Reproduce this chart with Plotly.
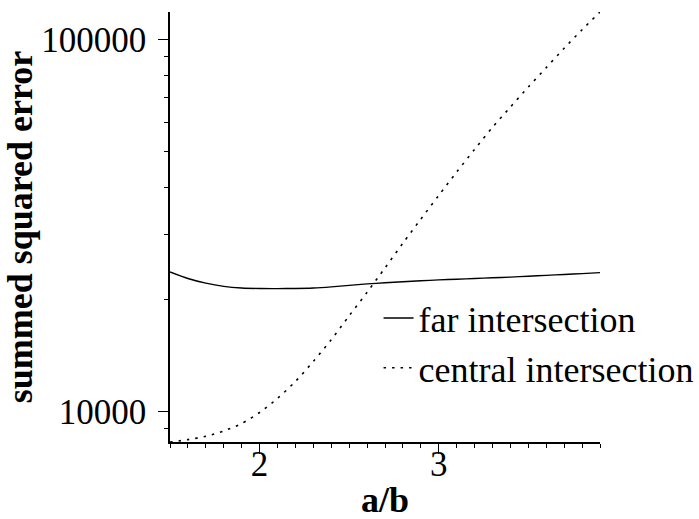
import numpy as np
import plotly.graph_objects as go

# ratio a/b
ab = [1.5, 1.6, 1.7, 1.8, 1.9, 2.0, 2.1, 2.2, 2.3, 2.4, 2.5, 2.6, 2.7,
      2.8, 2.9, 3.0, 3.1, 3.2, 3.3, 3.4, 3.5, 3.6, 3.7, 3.8, 3.9]

# summed squared error for the far intersection
far_err = [23740, 22800, 22150, 21720, 21500, 21430, 21420, 21440, 21500,
           21650, 21850, 22050, 22200, 22350, 22480, 22600, 22700, 22800,
           22900, 23000, 23120, 23250, 23380, 23500, 23650]

# summed squared error for the central intersection
central_err = [8290, 8413, 8587, 8878, 9295, 9950, 10860, 12060, 13650,
               15620, 18100, 20940, 24350, 28380, 32920, 38130, 44070,
               50680, 58090, 65870, 74560, 84060, 94800, 106300, 118600]

y_ticks = [10000, 100000]
y_ticktext = ["10000", "100000"]
x_ticks = [2, 3]
x_ticktext = ["2", "3"]

FONT = "'Liberation Serif', 'Times New Roman', Times, serif"
SIZE = 36
TICK_SIZE = 35

fig = go.Figure()
fig.add_trace(go.Scatter(
    x=ab, y=far_err, mode="lines", name="far intersection",
    line=dict(color="black", width=1.4, shape="spline", smoothing=0.8),
))
fig.add_trace(go.Scatter(
    x=ab, y=central_err, mode="lines", name="central intersection",
    line=dict(color="black", width=1.6, dash="2.5px,6px", shape="spline",
              smoothing=0.8),
))

y_minor = [9000] + [k * 10000 for k in range(2, 10)]

fig.update_layout(
    width=699, height=519,
    margin=dict(l=170, r=99, t=12, b=77, autoexpand=False),
    paper_bgcolor="white", plot_bgcolor="white",
    font=dict(family=FONT, size=SIZE, color="black"),
    showlegend=True,
    legend=dict(
        x=0.485, y=0.23, xanchor="left", yanchor="middle",
        bgcolor="rgba(0,0,0,0)", borderwidth=0,
        font=dict(family=FONT, size=SIZE, color="black"),
        tracegroupgap=0,
    ),
    xaxis=dict(
        range=[min(ab), max(ab)], automargin=False,
        tickmode="array", tickvals=x_ticks, ticktext=x_ticktext,
        ticks="outside", ticklen=10, tickwidth=1.3, tickcolor="black",
        showline=True, linecolor="black", linewidth=1.5,
        showgrid=False, zeroline=False, mirror=False,
        minor=dict(tickmode="linear", tick0=1.5, dtick=0.1, ticks="outside",
                   ticklen=4, tickwidth=1.2, tickcolor="black", showgrid=False),
        tickfont=dict(family=FONT, size=TICK_SIZE),
        ticklabelstandoff=-20,
    ),
    yaxis=dict(
        type="log", automargin=False,
        range=[np.log10(min(central_err)), np.log10(max(central_err))],
        tickmode="array", tickvals=y_ticks, ticktext=y_ticktext,
        ticks="outside", ticklen=10, tickwidth=1.3, tickcolor="black",
        showline=True, linecolor="black", linewidth=1.5,
        showgrid=False, zeroline=False, mirror=False,
        minor=dict(tickmode="array", tickvals=y_minor, ticks="outside",
                   ticklen=4, tickwidth=1.2, tickcolor="black", showgrid=False),
        tickfont=dict(family=FONT, size=TICK_SIZE),
        ticklabelstandoff=5,
        title=dict(text="<b>summed squared error</b>",
                   font=dict(family=FONT, size=SIZE), standoff=10),
    ),
    annotations=[
        dict(text="<b>a/b</b>", xref="paper", yref="paper",
             x=0.5, y=-0.179, xanchor="center", yanchor="bottom",
             yshift=-3, showarrow=False, font=dict(family=FONT, size=SIZE)),
    ],
)

fig.write_html("out.html")
